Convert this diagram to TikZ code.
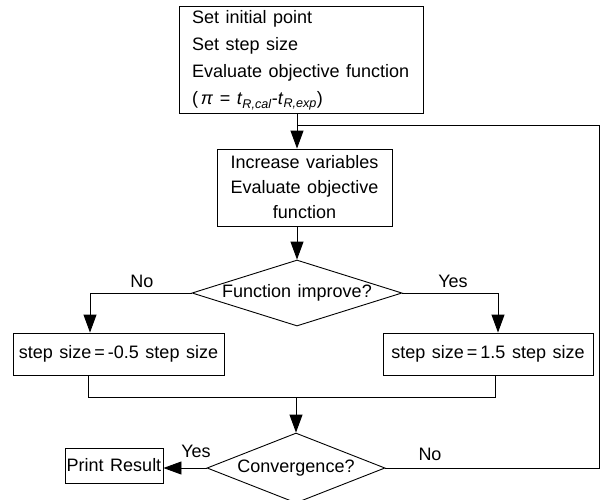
\documentclass[tikz,border=0pt]{standalone}
\usepackage{fontspec}
\setmainfont{Liberation Sans}[WordSpace=1.3]
\usetikzlibrary{arrows.meta,shapes.geometric}
\begin{document}
\begin{tikzpicture}[x=1pt,y=-1pt,
  line width=0.9pt,
  font=\fontsize{18}{26}\selectfont,
  arr/.style={-{Triangle[length=18pt,width=13pt]}},
  boxnode/.style={draw,inner sep=0pt},
  decide/.style={draw,shape=diamond,inner sep=0pt},
  lbl/.style={inner sep=1pt}]
\useasboundingbox (0,0) rectangle (604,499);
% boxes
\node[boxnode,minimum width=244pt,minimum height=107pt] (b1) at (301,59.5) {};
\node[anchor=west,align=left,inner sep=0pt,font=\fontsize{18}{27}\selectfont] (t1) at ([xshift=13pt,yshift=-1pt]b1.west)
  {Set\ initial\ point\\Set\ step\ size\\Evaluate\ objective\ function\\(\,\textit{π} = \textit{t}\textsubscript{\textit{R,cal}}-\textit{t}\textsubscript{\textit{R,exp}})};
\node[boxnode,minimum width=175pt,minimum height=77pt,align=center,font=\fontsize{18}{25}\selectfont] (b2) at (304.5,187.5)
  {Increase\ variables\\Evaluate\ objective\\function};
\node[decide,minimum width=210pt,minimum height=66pt] (d1) at (297,293) {\makebox[0pt]{Function\ improve?}};
\node[boxnode,minimum width=211pt,minimum height=42pt] (b3) at (118.5,354) {step\ size\kern3pt=\kern3pt-0.5\ step\ size};
\node[boxnode,minimum width=210pt,minimum height=42pt] (b4) at (488,354) {step\ size\kern3pt=\kern3pt1.5\ step\ size};
\node[decide,minimum width=178pt,minimum height=70pt] (d2) at (296,468) {\makebox[0pt]{Convergence?}};
\node[boxnode,minimum width=98pt,minimum height=35pt] (b5) at (114,465.5) {Print\ Result};
% helper coordinates
\coordinate (lr) at (599,125);
\coordinate (lj) at (297,125);
\coordinate (nc) at (90,293);
\coordinate (yc) at (498,293);
\coordinate (ml) at (88,397);
\coordinate (mr) at (495,397);
\coordinate (mc) at (296,397);
% connectors
\draw[arr] (b1.south -| lj) -- (b2.north -| lj);
\draw (d2.east) -| (lr) -- (lj);
\draw[arr] (b2.south -| d1.north) -- (d1.north);
\draw[arr] (d1.west) -- (nc) -- (nc |- b3.north);
\draw[arr] (d1.east) -- (yc) -- (yc |- b4.north);
\draw (ml |- b3.south) -- (ml) -- (mr) -- (mr |- b4.south);
\draw[arr] (mc) -- (d2.north);
\draw[arr] (d2.west) -- (b5.east |- d2.west);
% labels
\node[lbl] (lno1) at (142,281) {No};
\node[lbl] (lyes1) at (453,281) {Yes};
\node[lbl] (lyes2) at (196,451) {Yes};
\node[lbl] (lno2) at (430,454) {No};
\end{tikzpicture}
\end{document}
